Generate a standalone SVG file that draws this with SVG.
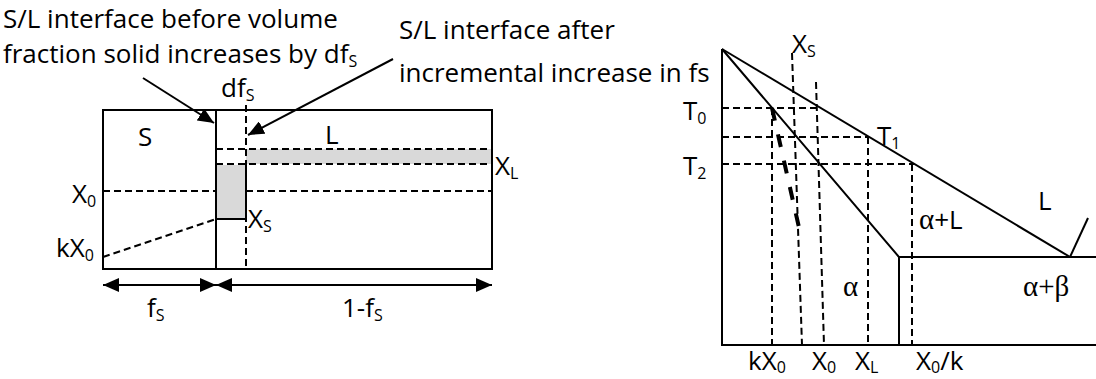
<svg xmlns="http://www.w3.org/2000/svg" width="1096" height="379" viewBox="0 0 1096 379">
<style>
.t{font-family:"Open Sans","Noto Sans",sans-serif;font-size:26px;fill:#000}
.sub{font-size:16px}
.gk{font-family:"Liberation Serif","DejaVu Serif",serif;font-size:29px}
.s{stroke:#000;stroke-width:2;fill:none}
.d{stroke:#000;stroke-width:2;stroke-dasharray:7 4;fill:none}
.tk{stroke:#000;stroke-width:4;stroke-dasharray:13 14;fill:none}
.gray{fill:#d9d9d9;stroke:none}
</style>
<defs>
<marker id="ah" markerUnits="userSpaceOnUse" markerWidth="16" markerHeight="14" refX="16" refY="7" orient="auto-start-reverse" viewBox="0 0 16 14">
<path d="M0,0 L16,7 L0,14 z" fill="#000"/>
</marker>
</defs>
<rect width="1096" height="379" fill="#fff"/>

<g id="left-diagram">
  <rect class="gray" x="246" y="149" width="246" height="15"/>
  <line class="d" x1="103" y1="191" x2="492" y2="191"/>
  <line class="d" x1="216" y1="149" x2="492" y2="149"/>
  <line class="d" x1="216" y1="164" x2="492" y2="164"/>
  <line class="d" x1="246" y1="105" x2="246" y2="269"/>
  <line class="d" x1="103" y1="257" x2="216" y2="219"/>
  <rect class="gray" x="216" y="165" width="30" height="54"/>
  <polyline class="s" points="216,219 246,219 246,165"/>
  <rect class="s" x="103" y="110" width="389" height="159"/>
  <line class="s" x1="216" y1="110" x2="216" y2="269"/>
</g>

<g id="right-diagram">
  <line class="d" x1="722" y1="108" x2="817" y2="108"/>
  <line class="d" x1="722" y1="137" x2="869" y2="137"/>
  <line class="d" x1="722" y1="164" x2="914" y2="164"/>
  <line class="d" x1="772" y1="108" x2="772" y2="345"/>
  <line class="d" x1="792" y1="53" x2="802" y2="345"/>
  <line class="d" x1="816" y1="82" x2="824" y2="345"/>
  <line class="d" x1="868" y1="137" x2="868" y2="345"/>
  <line class="d" x1="912" y1="164" x2="912" y2="345"/>
  <line class="tk" x1="772" y1="108" x2="800" y2="232"/>
  <polyline class="s" points="722,49 722,345 1096,345"/>
  <line class="s" x1="722" y1="49" x2="1070" y2="257"/>
  <polyline class="s" points="722,49 899,257 899,345"/>
  <line class="s" x1="899" y1="257" x2="1096" y2="257"/>
  <line class="s" x1="1070" y1="257" x2="1088" y2="218"/>
</g>

<g id="connectors">
  <line class="s" x1="143" y1="78" x2="214" y2="123" marker-end="url(#ah)"/>
  <line class="s" x1="393" y1="59" x2="248" y2="135" marker-end="url(#ah)"/>
  <line class="s" x1="103" y1="285" x2="216" y2="285" marker-start="url(#ah)" marker-end="url(#ah)"/>
  <line class="s" x1="216" y1="285" x2="492" y2="285" marker-start="url(#ah)" marker-end="url(#ah)"/>
</g>

<g id="labels-left">
  <text class="t" x="3" y="28">S/L interface before volume</text>
  <text class="t" x="3" y="63">fraction solid increases by df<tspan class="sub" dy="4">S</tspan></text>
  <text class="t" x="221" y="97">df<tspan class="sub" dy="4">S</tspan></text>
  <text class="t" x="399" y="39">S/L interface after</text>
  <text class="t" x="399" y="82">incremental increase in fs</text>
  <text class="t" x="138" y="146">S</text>
  <text class="t" x="325" y="144">L</text>
  <text class="t" x="495" y="175">X<tspan class="sub" dy="4">L</tspan></text>
  <text class="t" x="248" y="228">X<tspan class="sub" dy="4">S</tspan></text>
  <text class="t" x="72" y="203">X<tspan class="sub" dy="4">0</tspan></text>
  <text class="t" x="56" y="257">kX<tspan class="sub" dy="4">0</tspan></text>
  <text class="t" x="147" y="317">f<tspan class="sub" dy="4">S</tspan></text>
  <text class="t" x="342" y="317">1-f<tspan class="sub" dy="4">S</tspan></text>
</g>

<g id="labels-right">
  <text class="t" x="792" y="53">X<tspan class="sub" dy="4">S</tspan></text>
  <text class="t" x="683" y="120">T<tspan class="sub" dy="4">0</tspan></text>
  <text class="t" x="877" y="145">T<tspan class="sub" dy="4">1</tspan></text>
  <text class="t" x="683" y="175">T<tspan class="sub" dy="4">2</tspan></text>
  <text class="t" x="1038" y="210">L</text>
  <text class="t" x="919" y="229"><tspan class="gk">α</tspan>+L</text>
  <text class="t gk" x="843" y="296">α</text>
  <text class="t gk" x="1023" y="296">α+β</text>
  <text class="t" x="748" y="370">kX<tspan class="sub" dy="3">0</tspan></text>
  <text class="t" x="812" y="370">X<tspan class="sub" dy="3">0</tspan></text>
  <text class="t" x="855" y="370">X<tspan class="sub" dy="3">L</tspan></text>
  <text class="t" x="916" y="370">X<tspan class="sub" dy="3">0</tspan><tspan dy="-3">/k</tspan></text>
</g>
</svg>
